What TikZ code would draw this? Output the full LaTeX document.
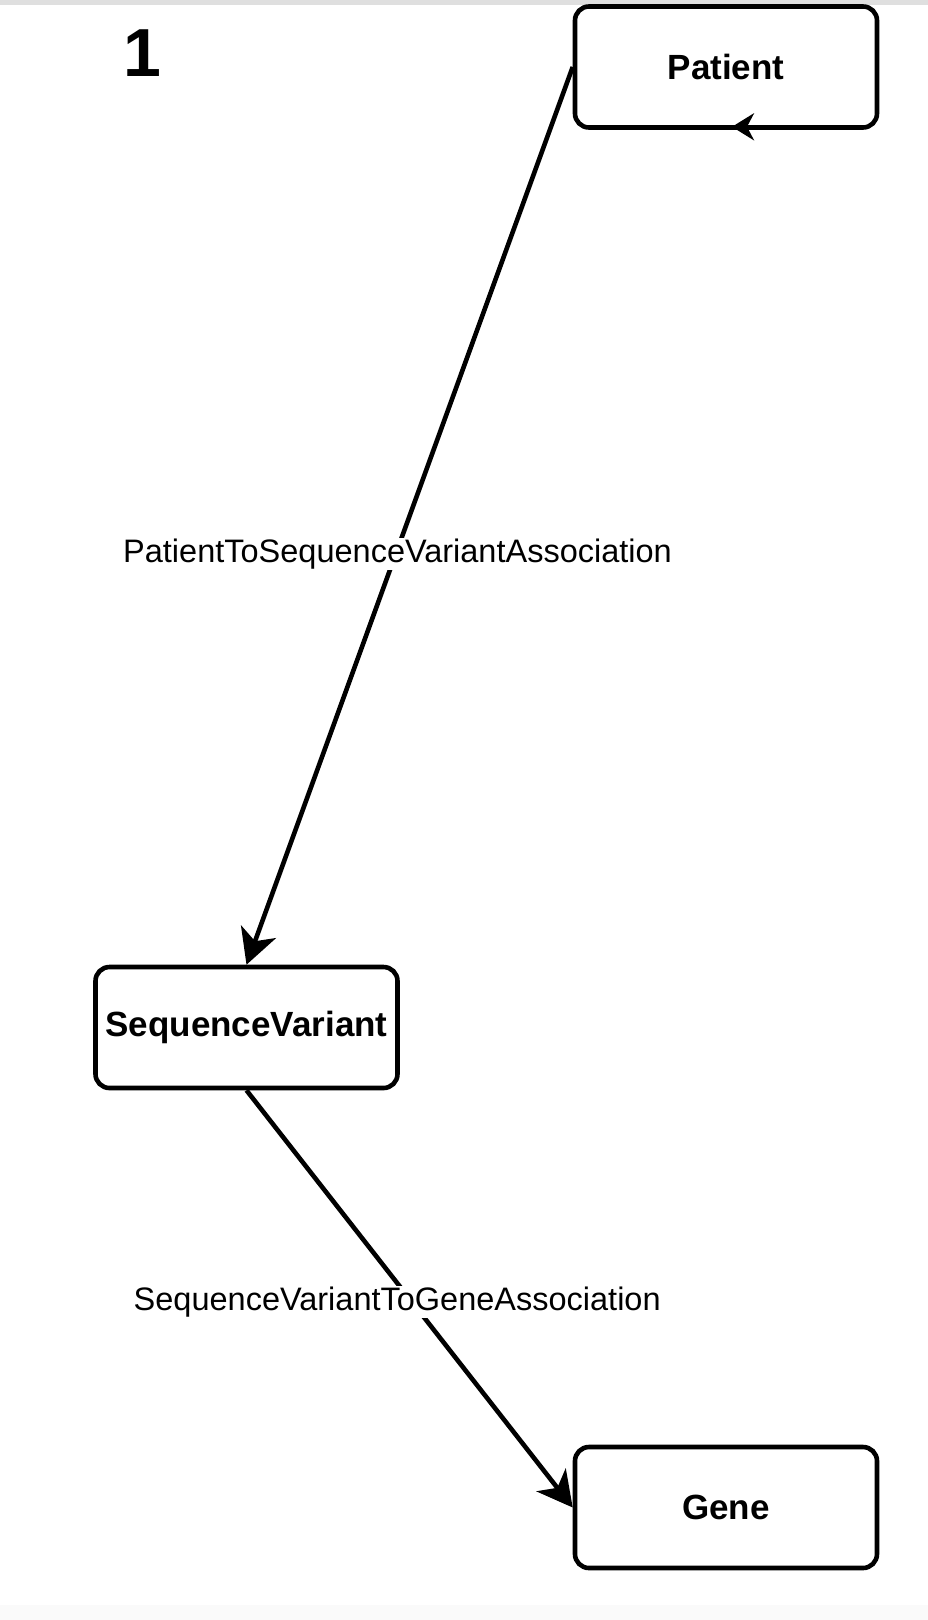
\documentclass[tikz,border=0pt]{standalone}
\usepackage{fontspec}
\setmainfont{Liberation Sans}
\usetikzlibrary{arrows.meta}
\tikzset{
  entity/.style={draw=black,line width=4.6pt,rounded corners=14pt,fill=white,
    minimum width=302pt,minimum height=121pt,inner sep=0pt,
    font=\fontsize{35}{42}\selectfont\bfseries},
  link/.style={draw=black,line width=4.6pt,-{Stealth[length=35pt,width=37pt,inset=10pt]}},
  stub/.style={draw=black,line width=4.6pt,-{Stealth[length=22pt,width=27pt,inset=7pt]}},
  linklabel/.style={fill=white,inner sep=1pt,font=\fontsize{32.5}{39}\selectfont},
  pagenum/.style={anchor=base,font=\fontsize{68}{80}\selectfont\bfseries}
}

\begin{document}
\begin{tikzpicture}[x=1pt,y=-1pt]
  \useasboundingbox (0,0) rectangle (928,1620);
  \fill[gray!25] (0,0) rectangle (928,5);
  \fill[gray!4] (0,1605) rectangle (928,1620);

  \node[pagenum] (num) at (142,76) {1};
  \node[entity] (patient) at (726,67) {Patient};
  \node[entity] (variant) at (246.5,1027.5) {SequenceVariant};
  \node[entity] (gene) at (726,1507.5) {Gene};

  % associations
  \draw[link] (patient.west) -- (variant.north)
    node[linklabel,pos=0.537,yshift=-5pt] {PatientToSequenceVariantAssociation};
  \draw[link] (variant.south) -- (gene.west)
    node[linklabel,pos=0.508,xshift=-15pt] {SequenceVariantToGeneAssociation};
  \draw[stub] ([xshift=27pt,yshift=3pt]patient.south) -- ([xshift=6pt,yshift=3pt]patient.south);
\end{tikzpicture}
\end{document}
